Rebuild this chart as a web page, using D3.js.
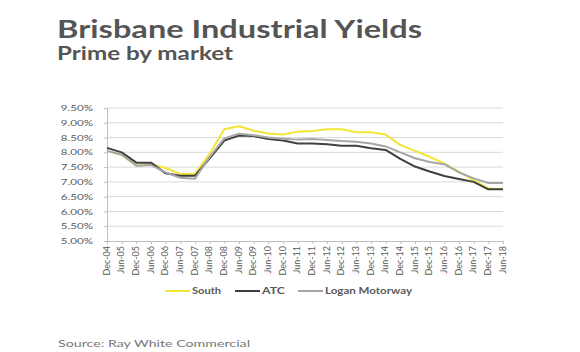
<!DOCTYPE html>
<html><head><meta charset="utf-8">
<script src="https://cdn.jsdelivr.net/npm/d3@7"></script>
<style>body{margin:0;background:#fff;font-family:Lato,sans-serif}</style>
</head><body><svg id="c" width="580" height="352"></svg>
<script>
const periods = ["Dec-04","Jun-05","Dec-05","Jun-06","Dec-06","Jun-07","Dec-07","Jun-08","Dec-08","Jun-09","Dec-09","Jun-10","Dec-10","Jun-11","Dec-11","Jun-12","Dec-12","Jun-13","Dec-13","Jun-14","Dec-14","Jun-15","Dec-15","Jun-16","Dec-16","Jun-17","Dec-17","Jun-18"];
const south = [8.05,7.92,7.55,7.6,7.47,7.27,7.27,7.95,8.78,8.88,8.73,8.64,8.6,8.7,8.72,8.78,8.78,8.68,8.68,8.6,8.25,8.05,7.85,7.62,7.35,7.05,6.78,6.75];
const atc = [8.15,8.0,7.65,7.65,7.29,7.21,7.21,7.8,8.4,8.57,8.55,8.45,8.4,8.3,8.3,8.27,8.22,8.22,8.14,8.08,7.78,7.52,7.35,7.2,7.1,7.0,6.75,6.75];
const logan = [8.05,7.92,7.55,7.57,7.32,7.14,7.11,7.85,8.47,8.63,8.58,8.5,8.46,8.43,8.45,8.42,8.38,8.36,8.3,8.2,8.0,7.8,7.67,7.6,7.32,7.12,6.96,6.96];
const yTicks = [5.0,5.5,6.0,6.5,7.0,7.5,8.0,8.5,9.0,9.5];
const seriesNames = ["South","ATC","Logan Motorway"];
const colors = ["#f2e535","#404040","#a6a6a6"];

const svg = d3.select("#c");
const x = d3.scalePoint().domain(periods).range([107, 503]);
const y = d3.scaleLinear().domain([5, 9.5]).range([241, 108]);
const txt = "#595959";

function stretch(sel, f){
  sel.each(function(){
    const w = this.getComputedTextLength();
    d3.select(this).attr("textLength", w*f).attr("lengthAdjust","spacingAndGlyphs");
  });
}
function fitTo(sel, w){ sel.attr("textLength", w).attr("lengthAdjust","spacingAndGlyphs"); }

fitTo(svg.append("text").attr("x",57).attr("y",38).attr("fill","#555").attr("font-size",25).attr("font-weight",700).text("Brisbane Industrial Yields"), 365);
fitTo(svg.append("text").attr("x",57).attr("y",60).attr("fill","#555").attr("font-size",18.5).attr("font-weight",700).text("Prime by market"), 176);
fitTo(svg.append("text").attr("x",58).attr("y",347).attr("fill","#777").attr("font-size",10).text("Source: Ray White Commercial"), 192);

// gridlines
svg.append("g").selectAll("line").data(yTicks.slice(1)).join("line")
  .attr("x1",107).attr("x2",503).attr("y1",d=>y(d)).attr("y2",d=>y(d))
  .attr("stroke","#d9d9d9").attr("stroke-width",1);

const yAxis = svg.append("g").attr("transform","translate(107,0)")
  .call(d3.axisLeft(y).tickValues(yTicks).tickFormat(d=>d3.format(".2f")(d)+"%").tickSize(3).tickPadding(11));
yAxis.select(".domain").attr("stroke","#bfbfbf");
yAxis.selectAll(".tick line").attr("stroke","#bfbfbf");
yAxis.selectAll("text").attr("fill",txt).attr("font-size",8).attr("font-family","Lato");
stretch(yAxis.selectAll("text"), 1.45);

const xAxis = svg.append("g").attr("transform","translate(0,241)")
  .call(d3.axisBottom(x).tickSize(3).tickSizeOuter(0));
xAxis.select(".domain").attr("stroke","#bfbfbf");
xAxis.selectAll(".tick line").attr("stroke","#bfbfbf");
xAxis.selectAll("text").attr("fill",txt).attr("font-size",9).attr("font-family","Lato")
  .attr("transform","rotate(-90)").attr("text-anchor","end").attr("dx","-5").attr("dy","0").attr("y",0).attr("x",0)
  .style("dominant-baseline","middle");

const line = d3.line().x((d,i)=>x(periods[i])).y(d=>y(d));
[south, atc, logan].forEach((s,k)=>{
  svg.append("path").datum(s).attr("d",line).attr("fill","none")
    .attr("stroke",colors[k]).attr("stroke-width",2).attr("stroke-linejoin","round");
});

// legend
const legX = [165, 235, 298];
const legW = [29, 23, 87];
seriesNames.forEach((n,k)=>{
  const g = svg.append("g");
  g.append("line").attr("x1",legX[k]).attr("x2",legX[k]+25).attr("y1",291).attr("y2",291)
    .attr("stroke",colors[k]).attr("stroke-width",2);
  fitTo(g.append("text").attr("x",legX[k]+27).attr("y",294).attr("fill",txt).attr("font-size",8.5).attr("font-weight",700).text(n), legW[k]);
});
</script></body></html>
